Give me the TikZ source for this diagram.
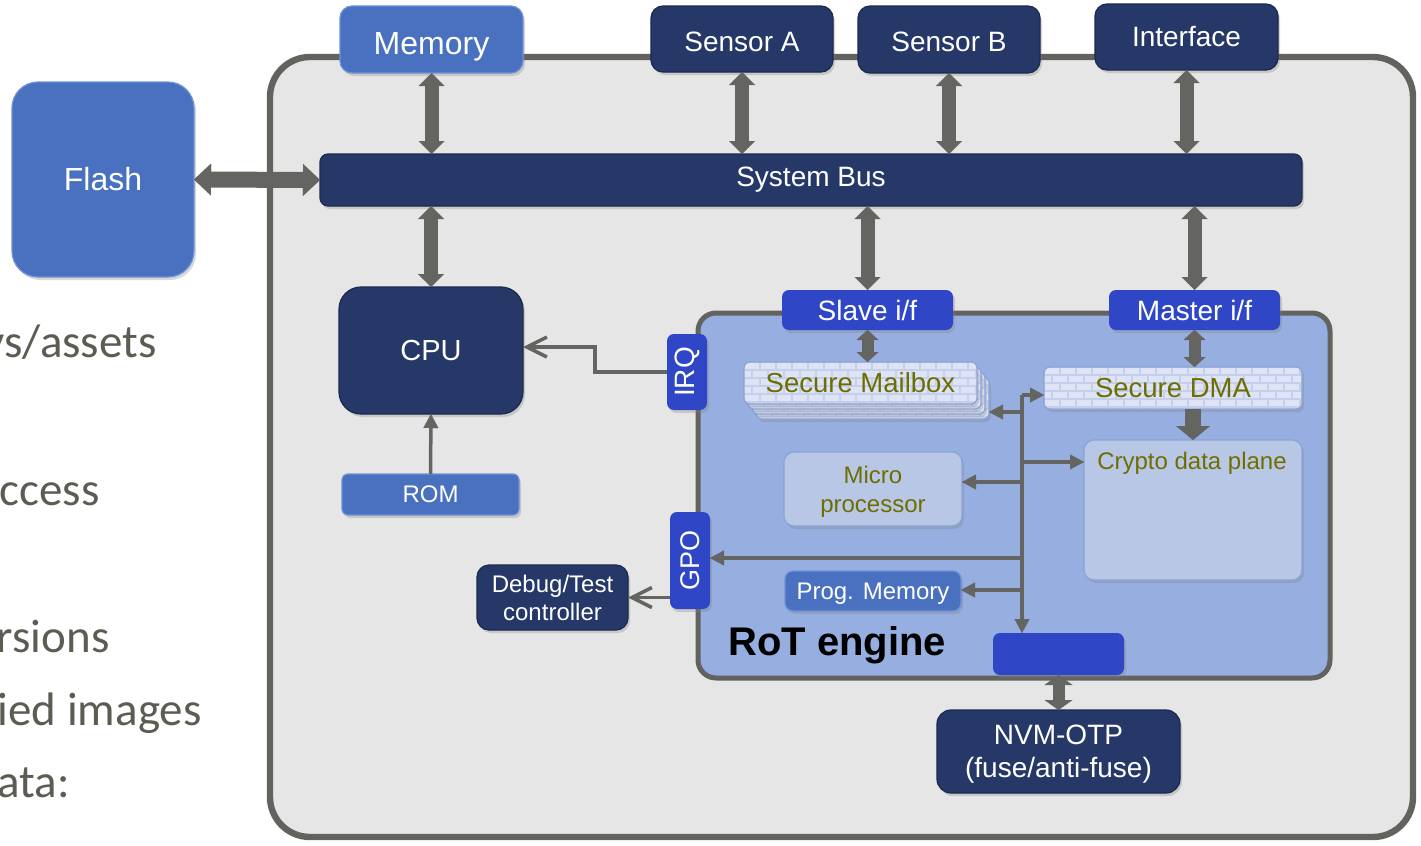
\documentclass[tikz,border=0pt]{standalone}
\usepackage{fontspec}
\setmainfont{Liberation Sans}
\newfontfamily\slidefont{Carlito}
\usetikzlibrary{arrows.meta,shadows}

\newcommand{\fsz}[2]{\fontsize{#1pt}{#2pt}\selectfont}

\definecolor{navy}{RGB}{37,56,104}
\definecolor{navyedge}{RGB}{27,41,78}
\definecolor{midblue}{RGB}{74,112,192}
\definecolor{midedge}{RGB}{112,146,214}
\definecolor{portblue}{RGB}{47,71,198}
\definecolor{rotfill}{RGB}{150,174,224}
\definecolor{lightbox}{RGB}{185,199,231}
\definecolor{lightedge}{RGB}{140,163,214}
\definecolor{brickfill}{RGB}{222,228,245}
\definecolor{mortar}{RGB}{196,207,236}
\definecolor{arrowgray}{RGB}{100,100,96}
\definecolor{framegray}{RGB}{98,98,94}
\definecolor{socfill}{RGB}{230,230,230}
\definecolor{olive}{RGB}{110,110,0}
\definecolor{slidetext}{RGB}{92,92,82}

\tikzset{
  % box given by its corners, in pixel units
  bx/.style n args={4}{at={({(#1+#3)/2},{(#2+#4)/2})},
    minimum width={(#3-#1)*0.5pt}, minimum height={(#4-#2)*0.5pt}},
  flashtip/.tip={Triangle[width=16pt,length=8.5pt,line width=0.01pt]},
  bustip/.tip={Triangle[width=13pt,length=6.5pt,line width=0.01pt]},
  porttip/.tip={Triangle[width=11pt,length=5pt,line width=0.01pt]},
  otptip/.tip={Triangle[width=14pt,length=5pt,line width=0.01pt]},
  dmatip/.tip={Triangle[width=17pt,length=7pt,line width=0.01pt]},
  thintip/.tip={Triangle[width=7.5pt,length=7pt,line width=0.01pt]},
  opentip/.tip={Straight Barb[width=10pt,length=10pt]},
  base/.style={inner sep=0pt, outer sep=0pt, line width=0.6pt, align=center,
    drop shadow={shadow xshift=1pt, shadow yshift=-1.5pt, opacity=0.3}},
  navybox/.style={base, fill=navy, draw=navyedge, text=white},
  bluebox/.style={base, fill=midblue, draw=midedge, text=white},
  portbox/.style={base, fill=portblue, draw=none, text=white, rounded corners=3.5pt},
  lightblock/.style={base, fill=lightbox, draw=lightedge, text=olive, rounded corners=5pt},
  brickbox/.style={base, fill=brickfill, draw=lightedge, text=olive, rounded corners=3pt,
    path picture={
      \foreach \r in {0,...,6}{
        \pgfmathsetmacro\off{mod(\r,2)*4}
        \draw[mortar, line width=0.6pt]
          ([yshift={-\r*4pt}]path picture bounding box.north west) -- ++(150pt,0);
        \foreach \c in {0,...,17}{
          \draw[mortar, line width=0.6pt]
            ([xshift={\c*8pt+\off pt}, yshift={-\r*4pt}]path picture bounding box.north west) -- ++(0,-4pt);
        }
      }
    }},
  blockflash/.style={draw=arrowgray, line width=8pt, arrows={flashtip-flashtip}},
  blockbus/.style={draw=arrowgray, line width=7pt, arrows={bustip-bustip}},
  blockport/.style={draw=arrowgray, line width=6pt, arrows={porttip-porttip}},
  blockotp/.style={draw=arrowgray, line width=6pt, arrows={otptip-otptip}},
  blockdma/.style={draw=arrowgray, line width=8pt, arrows={-dmatip}},
  conn/.style={draw=arrowgray, line width=1.75pt},
  slideline/.style={anchor=base east, inner sep=0pt, text=slidetext, font=\slidefont\fsz{23.5}{28}}
}

\begin{document}
\begin{tikzpicture}[x=0.5pt,y=-0.5pt]
\useasboundingbox (0,0) rectangle (1421,846);
\clip (0,0) rectangle (1421,846);
\fill[white] (0,0) rectangle (1421,846);

% slide text running behind the diagram
\node[slideline] (s1) at (157,357) {ys/assets};
\node[slideline] (s2) at (100,505) {ccess};
\node[slideline] (s3) at (110,652) {rsions};
\node[slideline] (s4) at (202,725) {ied images};
\node[slideline] (s5) at (70,797) {ata:};

% SoC outline
\node[bx={270}{57}{1413}{837}, inner sep=0pt, fill=socfill, draw=framegray,
      line width=3.2pt, rounded corners=20pt] (soc) {};

% external parts and system bus
\node[bluebox, rounded corners=13pt, bx={12}{82}{194}{277}, font=\fsz{16}{19}] (flash) {Flash};
\node[bluebox, rounded corners=6pt, bx={340}{6}{523}{73}, font=\fsz{16}{19},
      text height=15pt, text depth=0pt] (mem) {Memory};
\node[navybox, rounded corners=6pt, bx={651}{6}{833}{72}, font=\fsz{14}{17},
      text height=12pt, text depth=0pt] (sensA) {Sensor A};
\node[navybox, rounded corners=6pt, bx={858}{6}{1040}{73}, font=\fsz{14}{17},
      text height=12pt, text depth=0pt] (sensB) {Sensor B};
\node[navybox, rounded corners=6pt, bx={1095}{4}{1278}{70}, font=\fsz{14}{17}] (iface) {Interface};
\node[navybox, rounded corners=4pt, bx={320}{154}{1302}{206}, font=\fsz{14}{17}] (bus) {System Bus};
\node[navybox, rounded corners=11pt, bx={339}{287}{523}{414}, font=\fsz{14.5}{17}] (cpu) {CPU};
\node[bluebox, rounded corners=3pt, bx={342}{474}{519}{515}, font=\fsz{12}{14}] (rom) {ROM};
\node[navybox, rounded corners=6pt, bx={477}{565}{628}{630}, font=\fsz{12}{14}] (debug) {Debug/Test\\controller};
\node[navybox, rounded corners=7pt, bx={937}{710}{1180}{793}, font=\fsz{14}{16.5},
      text depth=0pt] (nvm) {NVM-OTP\\(fuse/anti-fuse)};

% RoT engine
\node[bx={698}{313}{1330}{678}, inner sep=0pt, fill=rotfill, draw=framegray,
      line width=2.5pt, rounded corners=9pt] (rot) {};
\node[anchor=base west, inner sep=0pt, font=\bfseries\fsz{20}{24}] (rotlabel) at (728,655) {RoT engine};

\node[portbox, bx={782}{290}{953}{330}, font=\fsz{14}{17}] (slave) {Slave i/f};
\node[portbox, bx={1109}{290}{1280}{330}, font=\fsz{14}{17}] (master) {Master i/f};
\node[portbox, bx={667}{334}{707}{410}, font=\fsz{14}{17}] (irq) {\rotatebox{90}{IRQ}};
\node[portbox, bx={670}{512}{710}{609}, font=\fsz{13.5}{16}] (gpo) {\rotatebox{90}{GPO}};
\node[portbox, bx={993}{633}{1124}{675}] (otpif) {};

% mailbox stack, back to front
\node[brickbox, bx={756}{377}{989}{419}] (mb3) {};
\node[brickbox, bx={752}{372}{985}{414}] (mb2) {};
\node[brickbox, bx={748}{367}{981}{409}] (mb1) {};
\node[brickbox, bx={744}{362}{977}{404}, font=\fsz{13.75}{16}] (mailbox) {Secure Mailbox};
\node[brickbox, bx={1044}{367}{1302}{409}, font=\fsz{13.75}{16}] (dma) {Secure DMA};

\node[lightblock, bx={1084}{440}{1302}{580}] (crypto) {};
\node[text=olive, inner sep=0pt, font=\fsz{12}{14}] (cryptolbl) at (1192,463) {Crypto data plane};
\node[lightblock, bx={784}{452}{962}{526}, font=\fsz{12}{14.5}, text depth=0pt] (micro) {Micro\\processor};
\node[bluebox, rounded corners=4pt, bx={785}{571}{961}{611}, font=\fsz{12}{14},
      text depth=0pt] (prog) {Prog. Memory};

% block arrows to and from the system bus
\draw[blockflash] (flash.east) -- (bus.west);
\draw[blockbus] (mem.south) -- (bus.north -| mem.south);
\draw[blockbus] (sensA.south) -- (bus.north -| sensA.south);
\draw[blockbus] (sensB.south) -- (bus.north -| sensB.south);
\draw[blockbus] (iface.south) -- (bus.north -| iface.south);
\draw[blockbus] (bus.south -| cpu.north) -- (cpu.north);
\draw[blockbus] (bus.south -| slave.north) -- (slave.north);
\draw[blockbus] (bus.south -| master.north) -- (master.north);

% block arrows inside the RoT engine
\draw[blockport] (slave.south) -- (mailbox.north -| slave.south);
\draw[blockport] (master.south) -- (dma.north -| master.south);
\draw[blockdma] (dma.south -| crypto.north) -- (crypto.north);
\draw[blockotp] (otpif.south) -- (nvm.north -| otpif.south);

% internal control bus
\coordinate (vtop) at (1022,395);
\coordinate (vmb) at (1022,412);
\coordinate (vcry) at (1022,462);
\coordinate (vmic) at (1022,482);
\coordinate (vgpo) at (1022,558);
\coordinate (vprog) at (1022,590);
\draw[conn, arrows={-thintip}] (vtop) -- (otpif.north -| vtop);
\draw[conn, arrows={-thintip}] (vtop) -- (dma.west |- vtop);
\draw[conn, arrows={-thintip}] (vmb) -- (mb3.east |- vmb);
\draw[conn, arrows={-thintip}] (vcry) -- (crypto.west |- vcry);
\draw[conn, arrows={-thintip}] (vmic) -- (micro.east |- vmic);
\draw[conn, arrows={-thintip}] (vgpo) -- (gpo.east |- vgpo);
\draw[conn, arrows={-thintip}] (vprog) -- (prog.east |- vprog);

% CPU side signals
\coordinate (irqbend) at (595,347);
\draw[conn, arrows={-opentip}] (irq.west) -| (irqbend) -- (cpu.east |- irqbend);
\draw[conn, arrows={-thintip}] (rom.north) -- (cpu.south);
\draw[conn, arrows={-opentip}] (gpo.west |- debug.east) -- (debug.east);
\end{tikzpicture}
\end{document}
